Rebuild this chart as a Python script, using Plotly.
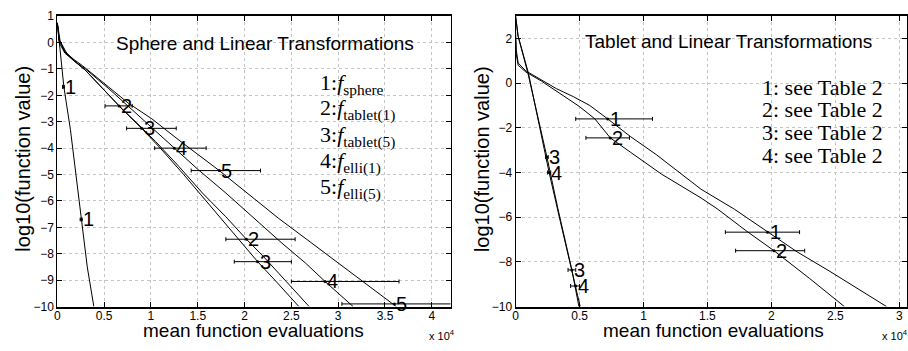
import plotly.graph_objects as go

W, H = 908, 351

# ---------------- Left panel: Sphere and Linear Transformations ----------------
# x in units of 10^4 mean function evaluations, y = log10(function value)
sphere_x = [0, 0.07, 0.14, 0.255, 0.32, 0.39]
sphere_y = [0.75, -1.68, -3.3, -6.7, -8.5, -10]

tab1_x = [0, 0.02, 0.08, 0.18, 0.3, 0.45, 0.66, 0.85, 1.05, 1.3, 1.55, 1.8, 2.02, 2.2, 2.45, 2.69]
tab1_y = [0.7, 0.1, -0.35, -0.7, -1.05, -1.6, -2.4, -3.05, -3.75, -4.7, -5.7, -6.6, -7.45, -8.1, -9.05, -10]

tab5_x = [0, 0.03, 0.1, 0.2, 0.3, 0.5, 0.7, 0.9, 1.1, 1.35, 1.6, 1.85, 2.14, 2.35, 2.58]
tab5_y = [0.75, 0.05, -0.4, -0.75, -1.05, -1.8, -2.55, -3.25, -4.0, -5.0, -6.05, -7.1, -8.3, -9.1, -10]

elli1_x = [0, 0.02, 0.08, 0.18, 0.3, 0.55, 0.8, 1.05, 1.25, 1.5, 1.8, 2.1, 2.4, 2.65, 2.86, 3.16]
elli1_y = [0.7, 0.0, -0.4, -0.7, -1.0, -1.75, -2.55, -3.35, -4.0, -4.8, -5.7, -6.65, -7.6, -8.35, -9.05, -10]

elli5_x = [0, 0.02, 0.08, 0.18, 0.27, 0.5, 0.76, 1.01, 1.3, 1.73, 2.05, 2.36, 2.7, 3.0, 3.3, 3.62]
elli5_y = [0.75, 0.1, -0.35, -0.65, -0.88, -1.55, -2.3, -2.89, -3.7, -4.85, -5.75, -6.65, -7.55, -8.35, -9.15, -10]

left_lab_text = ["1", "1", "2", "2", "3", "3", "4", "4", "5", "5"]
left_lab_x = [0.065, 0.255, 0.66, 2.02, 0.9, 2.14, 1.25, 2.86, 1.73, 3.6]
left_lab_y = [-1.68, -6.7, -2.4, -7.45, -3.25, -8.3, -4.0, -9.05, -4.85, -9.9]
left_lab_lo = [0.055, 0.245, 0.51, 1.8, 0.74, 1.89, 1.04, 2.5, 1.43, 3.04]
left_lab_hi = [0.075, 0.265, 0.8, 2.54, 1.27, 2.5, 1.59, 3.65, 2.17, 4.5]

left_legend = ["1:", "2:", "3:", "4:", "5:"]
left_legend_sub = ["sphere", "tablet(1)", "tablet(5)", "elli(1)", "elli(5)"]

left_xticks = [0, 0.5, 1, 1.5, 2, 2.5, 3, 3.5, 4]
left_xticktext = ["0", "0.5", "1", "1.5", "2", "2.5", "3", "3.5", "4"]
left_yticks = [-10, -9, -8, -7, -6, -5, -4, -3, -2, -1, 0, 1]

# ---------------- Right panel: Tablet and Linear Transformations ----------------
r1_x = [0, 0.005, 0.02, 0.08, 0.2, 0.32, 0.45, 0.58, 0.72, 0.9, 1.1, 1.29, 1.45, 1.71, 1.97, 2.2, 2.45, 2.7, 2.9]
r1_y = [2.3, 1.5, 0.9, 0.55, 0.15, -0.25, -0.6, -1.0, -1.6, -2.4, -3.2, -4.06, -4.75, -5.64, -6.67, -7.55, -8.4, -9.3, -10]

r2_x = [0, 0.005, 0.02, 0.08, 0.2, 0.32, 0.5, 0.62, 0.74, 0.9, 1.14, 1.45, 1.58, 1.8, 2.02, 2.3, 2.57]
r2_y = [2.0, 1.3, 0.8, 0.5, 0.1, -0.35, -1.05, -1.6, -2.45, -3.1, -4.07, -5.14, -5.64, -6.6, -7.5, -8.75, -10]

r3_x = [0, 0.018, 0.097, 0.21, 0.245, 0.33, 0.44, 0.495]
r3_y = [3.0, 2.14, 0.43, -2.4, -3.31, -5.6, -8.36, -10]

r4_x = [0, 0.02, 0.1, 0.2, 0.262, 0.35, 0.47, 0.505]
r4_y = [3.0, 2.1, 0.45, -2.4, -4.0, -6.2, -9.08, -10]

right_lab_text = ["1", "1", "2", "2", "3", "3", "4", "4"]
right_lab_x = [0.72, 1.97, 0.74, 2.02, 0.245, 0.44, 0.262, 0.47]
right_lab_y = [-1.6, -6.67, -2.45, -7.5, -3.31, -8.36, -4.0, -9.08]
right_lab_lo = [0.47, 1.64, 0.55, 1.72, 0.235, 0.41, 0.25, 0.43]
right_lab_hi = [1.07, 2.22, 0.89, 2.26, 0.255, 0.47, 0.275, 0.50]

right_legend = ["1: see Table 2", "2: see Table 2", "3: see Table 2", "4: see Table 2"]

right_xticks = [0, 0.5, 1, 1.5, 2, 2.5, 3]
right_xticktext = ["0", "0.5", "1", "1.5", "2", "2.5", "3"]
right_yticks = [-10, -8, -6, -4, -2, 0, 2]

SANS = "Liberation Sans, Arial, sans-serif"
SERIF = "Liberation Serif, Times New Roman, serif"

fig = go.Figure()

line_style = dict(color="black", width=1)
for xs, ys in [(sphere_x, sphere_y), (tab1_x, tab1_y), (tab5_x, tab5_y),
               (elli1_x, elli1_y), (elli5_x, elli5_y)]:
    fig.add_trace(go.Scatter(x=xs, y=ys, mode="lines", line=line_style,
                             xaxis="x", yaxis="y", showlegend=False, hoverinfo="skip"))

for xs, ys in [(r1_x, r1_y), (r2_x, r2_y), (r3_x, r3_y), (r4_x, r4_y)]:
    fig.add_trace(go.Scatter(x=xs, y=ys, mode="lines", line=line_style,
                             xaxis="x2", yaxis="y2", showlegend=False, hoverinfo="skip"))


def bar_trace(xs, ys, lo, hi, xa, ya):
    return go.Scatter(
        x=xs, y=ys, mode="markers",
        marker=dict(size=3, color="black"),
        error_x=dict(type="data", symmetric=False,
                     array=[h - x for h, x in zip(hi, xs)],
                     arrayminus=[x - l for x, l in zip(xs, lo)],
                     color="black", thickness=1, width=2),
        cliponaxis=False, xaxis=xa, yaxis=ya, showlegend=False, hoverinfo="skip")


fig.add_trace(bar_trace(left_lab_x, left_lab_y, left_lab_lo, left_lab_hi, "x", "y"))
fig.add_trace(bar_trace(right_lab_x, right_lab_y, right_lab_lo, right_lab_hi, "x2", "y2"))


def px(x):
    return x / W


def py(y):
    return 1 - y / H


axis_common = dict(
    showline=True, linecolor="black", linewidth=1, mirror="allticks",
    ticks="inside", ticklen=5, tickcolor="black", tickwidth=1,
    showgrid=True, gridcolor="#c4c4c4", griddash="dot", gridwidth=1,
    zeroline=False, tickfont=dict(family=SANS, size=12, color="black"),
)

ydom = [py(312), py(9.5)]

fig.update_layout(
    width=W, height=H, margin=dict(l=0, r=0, t=0, b=0),
    paper_bgcolor="white", plot_bgcolor="white", showlegend=False,
    xaxis=dict(domain=[px(54.5), px(449)], range=[0, 4.2], anchor="y",
               tickvals=left_xticks, ticktext=left_xticktext, **axis_common),
    yaxis=dict(domain=ydom, range=[-10, 1], anchor="x", tickvals=left_yticks, **axis_common),
    xaxis2=dict(domain=[px(514.3), px(907)], range=[0, 3.06], anchor="y2",
                tickvals=right_xticks, ticktext=right_xticktext, **axis_common),
    yaxis2=dict(domain=ydom, range=[-10, 3], anchor="x2", tickvals=right_yticks, **axis_common),
)
fig.update_xaxes(linewidth=2, ticklabelstandoff=-3)

ann = []
# curve number labels placed at the error-bar centres
for t, x, y in zip(left_lab_text, left_lab_x, left_lab_y):
    ann.append(dict(x=x, y=y, xref="x", yref="y", text=t, xanchor="left",
                    font=dict(family=SANS, size=20, color="black")))
for t, x, y in zip(right_lab_text, right_lab_x, right_lab_y):
    ann.append(dict(x=x, y=y, xref="x2", yref="y2", text=t, xanchor="left",
                    font=dict(family=SANS, size=20, color="black")))
# panel titles
ann.append(dict(x=px(262.5), y=py(38), text="Sphere and Linear Transformations",
                font=dict(family=SANS, size=19, color="black")))
ann.append(dict(x=px(727.5), y=py(36), text="Tablet and Linear Transformations",
                font=dict(family=SANS, size=19, color="black")))
# axis titles
ann.append(dict(x=px(251), y=py(337), text="mean function evaluations",
                font=dict(family=SANS, size=19, color="black")))
ann.append(dict(x=px(713), y=py(337), text="mean function evaluations",
                font=dict(family=SANS, size=19, color="black")))
ann.append(dict(x=px(20), y=py(158), text="log10(function value)", textangle=-90,
                font=dict(family=SANS, size=20, color="black")))
ann.append(dict(x=px(480), y=py(158), text="log10(function value)", textangle=-90,
                font=dict(family=SANS, size=20, color="black")))
# exponent labels
ann.append(dict(x=px(440), y=py(342), text="x 10<sup>4</sup>",
                font=dict(family=SANS, size=11, color="black")))
ann.append(dict(x=px(880), y=py(342), text="x 10<sup>4</sup>", xanchor="left",
                font=dict(family=SANS, size=11, color="black")))
# legends
left_base = [97, 124.3, 151.6, 178.9, 206.2]
for lab, sub, b in zip(left_legend, left_legend_sub, left_base):
    ann.append(dict(x=px(316), y=py(b), xanchor="left", yanchor="bottom",
                    text=f"{lab}<i>f</i><sub>{sub}</sub>",
                    font=dict(family=SERIF, size=22, color="black")))
right_base = [98.5, 122.3, 146.3, 170.1]
for lab, b in zip(right_legend, right_base):
    ann.append(dict(x=px(760), y=py(b), xanchor="left", yanchor="bottom",
                    text=lab, font=dict(family=SERIF, size=22, color="black")))

for a in ann:
    a.setdefault("xref", "paper")
    a.setdefault("yref", "paper")
    a.setdefault("showarrow", False)
    a.setdefault("xanchor", "center")
    a.setdefault("yanchor", "middle")
fig.update_layout(annotations=ann)

fig.write_html("out.html", config={"displayModeBar": False},
               post_script="document.body.style.margin='0';document.body.style.padding='0';")
